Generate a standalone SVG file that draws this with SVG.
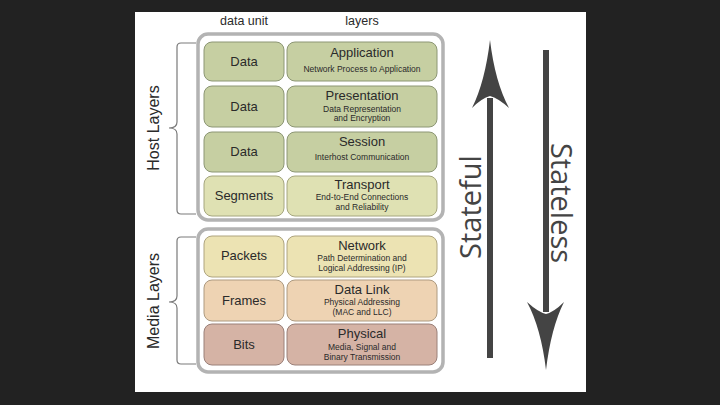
<svg xmlns="http://www.w3.org/2000/svg" width="720" height="405" viewBox="0 0 720 405">
<style>
.bg{fill:#222222}
.panel{fill:#ffffff}
.group{fill:#ffffff;stroke:#b3b3b3;stroke-width:3.5}
.cell{stroke-width:1}
.green{fill:#c6cfa2;stroke:#8c9674}
.seg{fill:#dfe1b3;stroke:#a5a67f}
.pack{fill:#ece3b3;stroke:#aea47f}
.frame{fill:#eed3b3;stroke:#ad9a80}
.bits{fill:#d5b3a5;stroke:#9a8079}
.t{font-family:"Liberation Sans",Arial,sans-serif;fill:#2a2a2a;text-anchor:middle}
.unit{font-size:13px}
.title{font-size:13px}
.sub{font-size:8.5px}
.hdr{font-size:12.5px}
.side{font-size:16px}
.brace{fill:none;stroke:#7a7a7a;stroke-width:1.2}
.big{font-family:"Open Sans","Noto Sans",sans-serif;font-size:29px;fill:#444444;text-anchor:middle}
.shaft{stroke:#444444;stroke-width:6}
.head{fill:#444444}
</style>
<rect class="bg" x="0" y="0" width="720" height="405"/>
<rect class="panel" x="135" y="12" width="451" height="380"/>

<text class="t hdr" x="244" y="25">data unit</text>
<text class="t hdr" x="362" y="25">layers</text>

<g id="host-layers">
<rect class="group" x="198" y="34" width="245" height="186" rx="10"/>
<path class="brace" d="M196,43 H181 Q177,43 177,47 V122 Q177,128 169,128 Q177,128 177,134 V210 Q177,214 181,214 H196"/>
<text class="t side" transform="translate(159,128) rotate(-90)" x="0" y="0">Host Layers</text>
</g>

<g id="media-layers">
<rect class="group" x="198" y="229" width="245" height="143" rx="10"/>
<path class="brace" d="M196,237 H181 Q177,237 177,241 V296 Q177,302 169,302 Q177,302 177,308 V360 Q177,364 181,364 H196"/>
<text class="t side" transform="translate(159,301) rotate(-90)" x="0" y="0">Media Layers</text>
</g>

<g id="application">
<rect class="cell green" x="204" y="42" width="80" height="39" rx="8"/>
<rect class="cell green" x="287" y="42" width="150" height="39" rx="8"/>
<text class="t unit" x="244" y="66">Data</text>
<text class="t title" x="362" y="57">Application</text>
<text class="t sub" x="362" y="72">Network Process to Application</text>
</g>

<g id="presentation">
<rect class="cell green" x="204" y="86" width="80" height="41" rx="8"/>
<rect class="cell green" x="287" y="86" width="150" height="41" rx="8"/>
<text class="t unit" x="244" y="111">Data</text>
<text class="t title" x="362" y="100">Presentation</text>
<text class="t sub" x="362" y="112">Data Representation</text>
<text class="t sub" x="362" y="121">and Encryption</text>
</g>

<g id="session">
<rect class="cell green" x="204" y="132" width="80" height="40" rx="8"/>
<rect class="cell green" x="287" y="132" width="150" height="40" rx="8"/>
<text class="t unit" x="244" y="156">Data</text>
<text class="t title" x="362" y="146">Session</text>
<text class="t sub" x="362" y="160">Interhost Communication</text>
</g>

<g id="transport">
<rect class="cell seg" x="204" y="176" width="80" height="40" rx="8"/>
<rect class="cell seg" x="287" y="176" width="150" height="40" rx="8"/>
<text class="t unit" x="244" y="200">Segments</text>
<text class="t title" x="362" y="189">Transport</text>
<text class="t sub" x="362" y="200">End-to-End Connections</text>
<text class="t sub" x="362" y="210">and Reliability</text>
</g>

<g id="network">
<rect class="cell pack" x="204" y="236" width="80" height="41" rx="8"/>
<rect class="cell pack" x="287" y="236" width="150" height="41" rx="8"/>
<text class="t unit" x="244" y="260">Packets</text>
<text class="t title" x="362" y="250">Network</text>
<text class="t sub" x="362" y="261">Path Determination and</text>
<text class="t sub" x="362" y="271">Logical Addressing (IP)</text>
</g>

<g id="data-link">
<rect class="cell frame" x="204" y="280" width="80" height="41" rx="8"/>
<rect class="cell frame" x="287" y="280" width="150" height="41" rx="8"/>
<text class="t unit" x="244" y="305">Frames</text>
<text class="t title" x="362" y="294">Data Link</text>
<text class="t sub" x="362" y="305">Physical Addressing</text>
<text class="t sub" x="362" y="315">(MAC and LLC)</text>
</g>

<g id="physical">
<rect class="cell bits" x="204" y="324" width="80" height="41" rx="8"/>
<rect class="cell bits" x="287" y="324" width="150" height="41" rx="8"/>
<text class="t unit" x="244" y="349">Bits</text>
<text class="t title" x="362" y="338">Physical</text>
<text class="t sub" x="362" y="350">Media, Signal and</text>
<text class="t sub" x="362" y="360">Binary Transmission</text>
</g>

<g id="connectors">
<g id="stateful-arrow">
<line class="shaft" x1="490" y1="98" x2="490" y2="358"/>
<path class="head" d="M490,40 Q485,82 472,108 Q482,98 490,96 Q498,98 509,108 Q495,82 490,40 Z"/>
</g>
<g id="stateless-arrow">
<line class="shaft" x1="546" y1="50" x2="546" y2="312"/>
<path class="head" d="M546,370 Q541,328 527,302 Q538,312 546,314 Q554,312 564,302 Q551,328 546,370 Z"/>
</g>
</g>

<text class="big" transform="translate(481,207) rotate(-90)" x="0" y="0">Stateful</text>
<text class="big" transform="translate(551,203) rotate(90)" x="0" y="0">Stateless</text>
</svg>
